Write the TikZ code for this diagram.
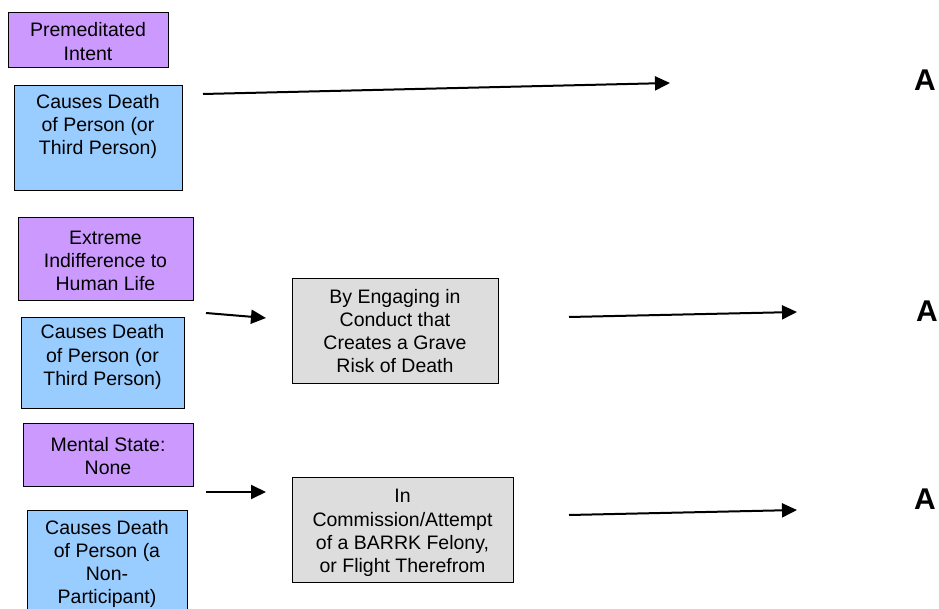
\documentclass[tikz,border=0pt]{standalone}
\usepackage{fontspec}
\setmainfont{Liberation Sans}
\usetikzlibrary{arrows.meta}
\definecolor{stateclr}{HTML}{CC99FF}
\definecolor{actclr}{HTML}{99CCFF}
\definecolor{condclr}{HTML}{DDDDDD}
\tikzset{
  box/.style={draw=black, line width=1.4pt, anchor=north west, inner sep=0pt},
  statebox/.style={box, fill=stateclr},
  actbox/.style={box, fill=actclr},
  condbox/.style={box, fill=condclr},
  lbl/.style={align=center, inner sep=0pt, font=\fontsize{19.5}{23.2}\selectfont},
  res/.style={anchor=base west, inner sep=0pt, font=\fontsize{30}{30}\selectfont\bfseries},
  flow/.style={line width=2pt, -{Triangle[length=15pt,width=14pt]}}
}
\begin{document}
\begin{tikzpicture}[x=1pt,y=-1pt]
\useasboundingbox (0,0) rectangle (939,609);
\begin{scope}
\clip (0,0) rectangle (939,609);

% first row: premeditated murder
\node[statebox, minimum width=160, minimum height=55] (pm) at (8,12) {};
\node[lbl] (pmt) at (88,41.5) {Premeditated\\Intent};
\node[actbox, minimum width=168, minimum height=105] (cd1) at (14,85) {};
\node[lbl] (cd1t) at (98,126.5) {Causes Death\\of Person (or\\Third Person)};

% second row: extreme indifference
\node[statebox, minimum width=175, minimum height=83] (ei) at (18,217) {};
\node[lbl] (eit) at (105.5,261) {Extreme\\Indifference to\\Human Life};
\node[actbox, minimum width=163, minimum height=91] (cd2) at (21,317) {};
\node[lbl] (cd2t) at (102.5,357) {Causes Death\\of Person (or\\Third Person)};
\node[condbox, minimum width=206, minimum height=105] (eng) at (292,278) {};
\node[lbl] (engt) at (395,331) {By Engaging in\\Conduct that\\Creates a Grave\\Risk of Death};

% third row: felony murder
\node[statebox, minimum width=170, minimum height=63] (ms) at (23,423) {};
\node[lbl] (mst) at (108,456) {Mental State:\\None};
\node[actbox, minimum width=160, minimum height=115] (cd3) at (27,510) {};
\node[lbl] (cd3t) at (107,564) {Causes Death\\of Person (a\\Non-\\Participant)};
\node[condbox, minimum width=221, minimum height=105] (fel) at (292,477) {};
\node[lbl] (felt) at (402.5,533) {In\\Commission/Attempt\\of a BARRK Felony,\\or Flight Therefrom};

% results
\node[res] (r1) at (914,91) {A};
\node[res] (r2) at (916,322) {A};
\node[res] (r3) at (914,509) {A};

% connector ends
\coordinate (a1s) at (203,94);  \coordinate (a1e) at (670,83);
\coordinate (a2s) at (206,313); \coordinate (a2e) at (266,318);
\coordinate (a3s) at (569,317); \coordinate (a3e) at (797,312);
\coordinate (a4s) at (206,492); \coordinate (a4e) at (266,492);
\coordinate (a5s) at (569,515); \coordinate (a5e) at (797,510);

\draw[flow] (a1s) -- (a1e);
\draw[flow] (a2s) -- (a2e);
\draw[flow] (a3s) -- (a3e);
\draw[flow] (a4s) -- (a4e);
\draw[flow] (a5s) -- (a5e);
\end{scope}
\end{tikzpicture}
\end{document}
